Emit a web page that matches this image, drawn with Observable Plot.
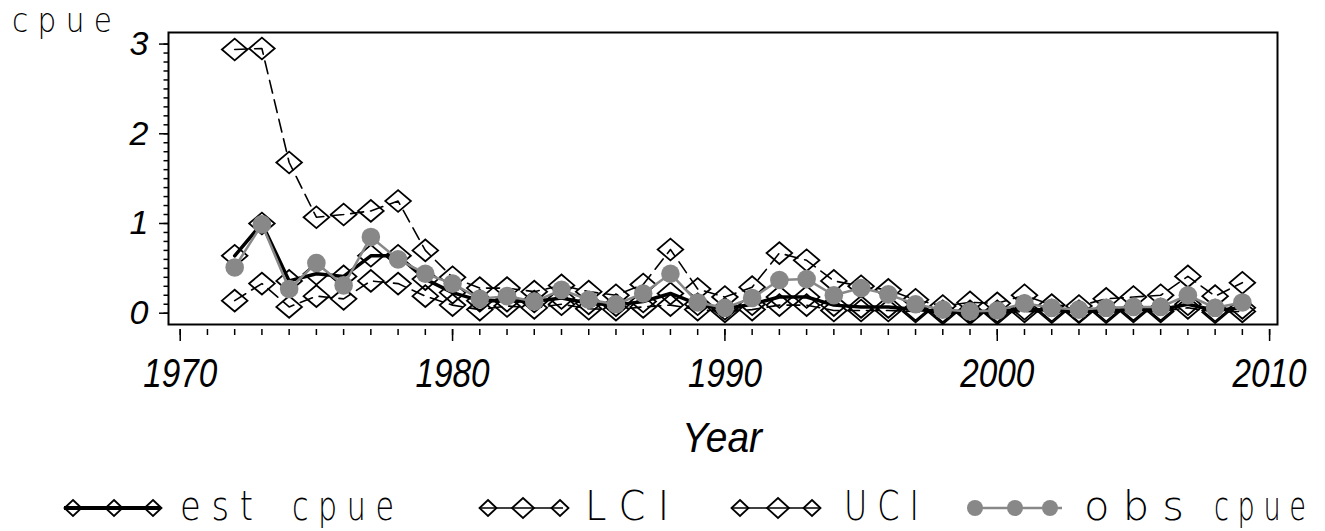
<!DOCTYPE html>
<html>
<head>
<meta charset="utf-8">
<script src="https://cdn.jsdelivr.net/npm/d3@7"></script>
<script src="https://cdn.jsdelivr.net/npm/@observablehq/plot@0.6"></script>
<style>
  html, body { margin: 0; padding: 0; background: #fff; }
  #wrap { position: relative; width: 1325px; height: 531px; overflow: hidden; background: #fff; }
  #chart { position: absolute; left: 0; top: 0; }
  #overlay { position: absolute; left: 0; top: 0; pointer-events: none; }
</style>
</head>
<body>
<div id="wrap">
  <div id="chart"></div>
  <svg id="overlay" width="1325" height="531"></svg>
</div>
<script>
// Survey years and the four series: model estimate, its lower / upper
// confidence limits, and the observed catch per unit effort.
const years = [
  1972, 1973, 1974, 1975, 1976, 1977, 1978, 1979, 1980, 1981,
  1982, 1983, 1984, 1985, 1986, 1987, 1988, 1989, 1990, 1991,
  1992, 1993, 1994, 1995, 1996, 1997, 1998, 1999, 2000, 2001,
  2002, 2003, 2004, 2005, 2006, 2007, 2008, 2009
];
const estCpue = [
  0.64, 1.00, 0.36, 0.44, 0.41, 0.64, 0.64, 0.38, 0.23, 0.14,
  0.14, 0.13, 0.17, 0.11, 0.09, 0.13, 0.22, 0.10, 0.05, 0.10,
  0.18, 0.18, 0.09, 0.07, 0.07, 0.04, 0.02, 0.02, 0.02, 0.05,
  0.03, 0.02, 0.03, 0.04, 0.04, 0.10, 0.03, 0.06
];
const lci = [
  0.14, 0.33, 0.07, 0.19, 0.16, 0.36, 0.33, 0.19, 0.09, 0.04,
  0.08, 0.06, 0.10, 0.05, 0.04, 0.07, 0.09, 0.04, 0.02, 0.04,
  0.09, 0.09, 0.03, 0.03, 0.03, 0.02, 0.00, 0.00, 0.00, 0.02,
  0.01, 0.01, 0.01, 0.02, 0.02, 0.06, 0.01, 0.02
];
const uci = [
  2.94, 2.95, 1.68, 1.07, 1.10, 1.14, 1.25, 0.70, 0.40, 0.28,
  0.28, 0.24, 0.31, 0.24, 0.20, 0.32, 0.71, 0.27, 0.18, 0.29,
  0.67, 0.59, 0.36, 0.30, 0.26, 0.15, 0.08, 0.12, 0.11, 0.20,
  0.09, 0.08, 0.16, 0.18, 0.20, 0.41, 0.19, 0.34
];
const obsCpue = [
  0.51, 0.99, 0.27, 0.56, 0.31, 0.85, 0.60, 0.44, 0.33, 0.16,
  0.19, 0.13, 0.26, 0.15, 0.10, 0.22, 0.44, 0.12, 0.06, 0.17,
  0.37, 0.38, 0.20, 0.28, 0.21, 0.10, 0.04, 0.02, 0.03, 0.11,
  0.06, 0.04, 0.06, 0.07, 0.07, 0.20, 0.06, 0.12
];
const yMajorTicks = [0, 1, 2, 3];
const xMajorTicks = [1970, 1980, 1990, 2000, 2010];
const legendLabels = ["est cpue", "LCI", "UCI", "obs cpue"];

const rows = years.map((year, i) => ({
  year, est: estCpue[i], lci: lci[i], uci: uci[i], obs: obsCpue[i]
}));

const yMinorTicks = d3.range(0, 31).map(i => i / 10);
const xMinorTicks = d3.range(1970, 2011);

const GREY = "#888888";

// Open diamond, a little wider than it is tall.
const diamond = {
  draw(context, size) {
    const r = Math.sqrt(size / Math.PI);
    context.moveTo(0, -r * 0.85);
    context.lineTo(r, 0);
    context.lineTo(0, r * 0.85);
    context.lineTo(-r, 0);
    context.closePath();
  }
};

const H = 475;
const axisY0 = 329; // baseline of the x axis ticks

const chart = Plot.plot({
  width: 1325,
  height: H,
  marginTop: 32,
  marginLeft: 168,
  marginRight: 48,
  marginBottom: H - axisY0,
  x: { domain: [1969.57, 2010.29], label: null },
  y: { domain: [-0.126, 3.129], insetBottom: 5, label: null },
  style: { fontFamily: "'Liberation Sans', Arial, sans-serif", background: "#fff", color: "#000", overflow: "visible" },
  marks: [
    Plot.frame({ stroke: "#000", strokeWidth: 2, insetBottom: 5 }),
    Plot.axisY({ ticks: yMinorTicks, tickSize: 4.5, tickFormat: () => "", strokeWidth: 1.5, label: null }),
    Plot.axisY({ ticks: yMajorTicks, tickSize: 9, tickPadding: 11, fontSize: 34, fontStyle: "italic",
                 tickFormat: d => String(d), strokeWidth: 1.5, label: null }),
    Plot.axisX({ ticks: xMinorTicks, tickSize: 6, tickFormat: () => "", strokeWidth: 1.5, label: null }),
    Plot.axisX({ ticks: xMajorTicks, tickSize: 12, tickPadding: 17, fontSize: 40, fontStyle: "italic",
                 tickFormat: d => String(d), strokeWidth: 1.5, label: null }),

    // confidence limits: dashed lines with open diamonds
    Plot.line(rows, { x: "year", y: "lci", stroke: "#000", strokeWidth: 1.6, strokeDasharray: "13,7" }),
    Plot.line(rows, { x: "year", y: "uci", stroke: "#000", strokeWidth: 1.6, strokeDasharray: "13,7" }),
    Plot.dot(rows, { x: "year", y: "lci", symbol: diamond, r: 12.8, stroke: "#000", strokeWidth: 1.8, fill: "none" }),
    Plot.dot(rows, { x: "year", y: "uci", symbol: diamond, r: 12.8, stroke: "#000", strokeWidth: 1.8, fill: "none" }),

    // model estimate: heavy black line with diamonds
    Plot.line(rows, { x: "year", y: "est", stroke: "#000", strokeWidth: 3.5 }),
    Plot.dot(rows, { x: "year", y: "est", symbol: diamond, r: 12.8, stroke: "#000", strokeWidth: 1.8, fill: "none" }),

    // observed values: grey line with filled grey dots
    Plot.line(rows, { x: "year", y: "obs", stroke: GREY, strokeWidth: 2.5 }),
    Plot.dot(rows, { x: "year", y: "obs", r: 9.3, fill: GREY, stroke: "none" })
  ]
});
document.getElementById("chart").appendChild(chart);

// Narrow, tightly set year labels.
d3.select(chart).selectAll('g[aria-label="x-axis tick label"] text')
  .filter(function () { return this.textContent !== ""; })
  .attr("textLength", 74).attr("lengthAdjust", "spacingAndGlyphs");

// Axis titles and the legend row underneath the chart.
const ov = d3.select("#overlay");
const thinFont = "'DejaVu Sans', 'Noto Sans', sans-serif";

// Place a text at (x, y) and squeeze it horizontally to the given width.
function fitText(parent, str, x, y, width, attrs) {
  const t = parent.append("text").attr("x", 0).attr("y", 0).text(str);
  Object.entries(attrs).forEach(([k, v]) => t.attr(k, v));
  const natural = t.node().getComputedTextLength() || width;
  t.attr("transform", `translate(${x},${y}) scale(${width / natural},1)`);
  return t;
}

const thinAttrs = size => ({ "font-family": thinFont, "font-weight": 200, "font-size": size });

fitText(ov, "c p u e", 12, 31.7, 100, thinAttrs(33));

fitText(ov, "Year", 722, 452, 80, {
  "font-family": "'Liberation Sans', Arial, sans-serif", "font-style": "italic",
  "font-size": 42, "text-anchor": "middle"
});

const legY = 508;
const legBase = 520;
const diamondPath = (cx, cy, rx, ry) => `M${cx},${cy - ry}L${cx + rx},${cy}L${cx},${cy + ry}L${cx - rx},${cy}Z`;
const spaced = s => s.split(" ").map(w => w.split("").join(" "));

const legendItems = [
  { label: legendLabels[0], x0: 64, x1: 160, marks: [73, 114, 153], kind: "est",
    words: [[180, 73], [292, 102]] },
  { label: legendLabels[1], x0: 481, x1: 563, marks: [488, 523, 560], kind: "ci",
    words: [[585, 84]] },
  { label: legendLabels[2], x0: 731, x1: 819, marks: [740, 778, 812], kind: "ci",
    words: [[844, 75]] },
  { label: legendLabels[3], x0: 968, x1: 1062, marks: [975, 1015, 1050], kind: "obs",
    words: [[1084, 100], [1214, 92]] }
];

legendItems.forEach(item => {
  const g = ov.append("g");
  if (item.kind === "obs") {
    g.append("line").attr("x1", item.x0).attr("x2", item.x1).attr("y1", legY).attr("y2", legY)
      .attr("stroke", GREY).attr("stroke-width", 2.5);
    item.marks.forEach(cx => g.append("circle").attr("cx", cx).attr("cy", legY).attr("r", 8).attr("fill", GREY));
  } else {
    g.append("line").attr("x1", item.x0).attr("x2", item.x1).attr("y1", legY).attr("y2", legY)
      .attr("stroke", "#000").attr("stroke-width", item.kind === "est" ? 4 : 1.6);
    item.marks.forEach((cx, j) => {
      const big = item.kind === "ci" && j === 1;
      g.append("path").attr("d", diamondPath(cx, legY, big ? 11 : 8.5, big ? 10 : 8))
        .attr("fill", "none").attr("stroke", "#000").attr("stroke-width", 1.8);
    });
  }
  spaced(item.label).forEach((w, k) => {
    fitText(g, w, item.words[k][0], legBase, item.words[k][1], thinAttrs(40));
  });
});
</script>
</body>
</html>
